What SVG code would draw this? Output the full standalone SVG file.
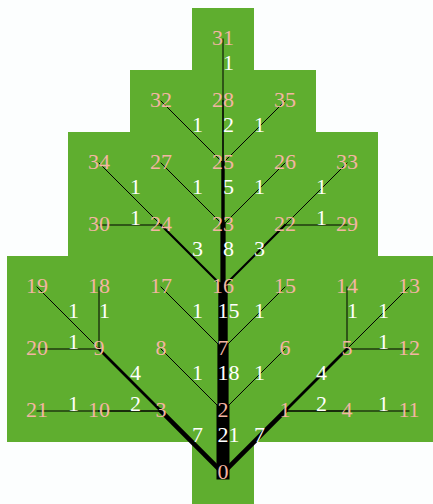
<svg xmlns="http://www.w3.org/2000/svg" width="433" height="504" viewBox="0 0 433 504">
<style>
.bg{fill:#fcfefe}
.leaf{fill:#5fae2f}
.e{stroke:#000;stroke-linecap:square;fill:none}
.w1{stroke-width:1}
.w2{stroke-width:1.6}
.w3{stroke-width:2.2}
.w4{stroke-width:2.8}
.w5{stroke-width:3.4}
.w7{stroke-width:4.6}
.w8{stroke-width:5.2}
.w15{stroke-width:9.4}
.w18{stroke-width:11.2}
.w21{stroke-width:13}
.el{font-family:"Liberation Serif","Times New Roman",serif;font-size:22px;fill:#ffffff;text-anchor:middle}
.nl{font-family:"Liberation Serif","Times New Roman",serif;font-size:22px;fill:#f4b5a3;text-anchor:middle}
</style>
<rect class="bg" x="0" y="0" width="433" height="504"/>
<path class="leaf" d="M192,8 H254 V70 H316 V132 H378 V256 H440 V442 H254 V504 H192 V442 H7 V256 H68 V132 H130 V70 H192 Z"/>
<g id="connectors">
<line class="e w7" x1="223" y1="473" x2="285" y2="411"/>
<line class="e w7" x1="223" y1="473" x2="161" y2="411"/>
<line class="e w2" x1="285" y1="411" x2="347" y2="411"/>
<line class="e w4" x1="285" y1="411" x2="347" y2="349"/>
<line class="e w1" x1="347" y1="411" x2="409" y2="411"/>
<line class="e w1" x1="347" y1="349" x2="409" y2="349"/>
<line class="e w1" x1="347" y1="349" x2="409" y2="287"/>
<line class="e w1" x1="347" y1="349" x2="347" y2="287"/>
<line class="e w1" x1="223" y1="411" x2="285" y2="349"/>
<line class="e w1" x1="223" y1="411" x2="161" y2="349"/>
<line class="e w1" x1="223" y1="349" x2="285" y2="287"/>
<line class="e w1" x1="223" y1="349" x2="161" y2="287"/>
<line class="e w4" x1="161" y1="411" x2="99" y2="349"/>
<line class="e w2" x1="161" y1="411" x2="99" y2="411"/>
<line class="e w1" x1="99" y1="349" x2="99" y2="287"/>
<line class="e w1" x1="99" y1="349" x2="37" y2="287"/>
<line class="e w1" x1="99" y1="349" x2="37" y2="349"/>
<line class="e w1" x1="99" y1="411" x2="37" y2="411"/>
<line class="e w3" x1="223" y1="287" x2="285" y2="225"/>
<line class="e w3" x1="223" y1="287" x2="161" y2="225"/>
<line class="e w1" x1="285" y1="225" x2="347" y2="225"/>
<line class="e w1" x1="285" y1="225" x2="347" y2="163"/>
<line class="e w1" x1="223" y1="225" x2="285" y2="163"/>
<line class="e w1" x1="223" y1="225" x2="161" y2="163"/>
<line class="e w1" x1="161" y1="225" x2="99" y2="225"/>
<line class="e w1" x1="161" y1="225" x2="99" y2="163"/>
<line class="e w1" x1="223" y1="163" x2="161" y2="101"/>
<line class="e w1" x1="223" y1="163" x2="285" y2="101"/>
<line class="e w1" x1="223" y1="101" x2="223" y2="39"/>
<line class="e w2" x1="223" y1="163" x2="223" y2="101"/>
<line class="e w5" x1="223" y1="225" x2="223" y2="163"/>
<line class="e w8" x1="223" y1="287" x2="223" y2="225"/>
<line class="e w15" x1="223" y1="349" x2="223" y2="287"/>
<line class="e w18" x1="223" y1="411" x2="223" y2="349"/>
<line class="e w21" x1="223" y1="473" x2="223" y2="411"/>
<text class="el" x="259.5" y="442">7</text>
<text class="el" x="228.5" y="442">21</text>
<text class="el" x="197.5" y="442">7</text>
<text class="el" x="321.5" y="411">2</text>
<text class="el" x="321.5" y="380">4</text>
<text class="el" x="383.5" y="411">1</text>
<text class="el" x="383.5" y="349">1</text>
<text class="el" x="383.5" y="318">1</text>
<text class="el" x="352.5" y="318">1</text>
<text class="el" x="259.5" y="380">1</text>
<text class="el" x="228.5" y="380">18</text>
<text class="el" x="197.5" y="380">1</text>
<text class="el" x="259.5" y="318">1</text>
<text class="el" x="228.5" y="318">15</text>
<text class="el" x="197.5" y="318">1</text>
<text class="el" x="135.5" y="380">4</text>
<text class="el" x="135.5" y="411">2</text>
<text class="el" x="104.5" y="318">1</text>
<text class="el" x="73.5" y="318">1</text>
<text class="el" x="73.5" y="349">1</text>
<text class="el" x="73.5" y="411">1</text>
<text class="el" x="259.5" y="256">3</text>
<text class="el" x="228.5" y="256">8</text>
<text class="el" x="197.5" y="256">3</text>
<text class="el" x="321.5" y="225">1</text>
<text class="el" x="321.5" y="194">1</text>
<text class="el" x="228.5" y="194">5</text>
<text class="el" x="259.5" y="194">1</text>
<text class="el" x="197.5" y="194">1</text>
<text class="el" x="135.5" y="225">1</text>
<text class="el" x="135.5" y="194">1</text>
<text class="el" x="228.5" y="132">2</text>
<text class="el" x="197.5" y="132">1</text>
<text class="el" x="259.5" y="132">1</text>
<text class="el" x="228.5" y="70">1</text>
</g>
<g id="n0"><text class="nl" x="223" y="479">0</text></g>
<g id="n1"><text class="nl" x="285" y="417">1</text></g>
<g id="n2"><text class="nl" x="223" y="417">2</text></g>
<g id="n3"><text class="nl" x="161" y="417">3</text></g>
<g id="n4"><text class="nl" x="347" y="417">4</text></g>
<g id="n5"><text class="nl" x="347" y="355">5</text></g>
<g id="n6"><text class="nl" x="285" y="355">6</text></g>
<g id="n7"><text class="nl" x="223" y="355">7</text></g>
<g id="n8"><text class="nl" x="161" y="355">8</text></g>
<g id="n9"><text class="nl" x="99" y="355">9</text></g>
<g id="n10"><text class="nl" x="99" y="417">10</text></g>
<g id="n11"><text class="nl" x="409" y="417">11</text></g>
<g id="n12"><text class="nl" x="409" y="355">12</text></g>
<g id="n13"><text class="nl" x="409" y="293">13</text></g>
<g id="n14"><text class="nl" x="347" y="293">14</text></g>
<g id="n15"><text class="nl" x="285" y="293">15</text></g>
<g id="n16"><text class="nl" x="223" y="293">16</text></g>
<g id="n17"><text class="nl" x="161" y="293">17</text></g>
<g id="n18"><text class="nl" x="99" y="293">18</text></g>
<g id="n19"><text class="nl" x="37" y="293">19</text></g>
<g id="n20"><text class="nl" x="37" y="355">20</text></g>
<g id="n21"><text class="nl" x="37" y="417">21</text></g>
<g id="n22"><text class="nl" x="285" y="231">22</text></g>
<g id="n23"><text class="nl" x="223" y="231">23</text></g>
<g id="n24"><text class="nl" x="161" y="231">24</text></g>
<g id="n25"><text class="nl" x="223" y="169">25</text></g>
<g id="n26"><text class="nl" x="285" y="169">26</text></g>
<g id="n27"><text class="nl" x="161" y="169">27</text></g>
<g id="n28"><text class="nl" x="223" y="107">28</text></g>
<g id="n29"><text class="nl" x="347" y="231">29</text></g>
<g id="n30"><text class="nl" x="99" y="231">30</text></g>
<g id="n31"><text class="nl" x="223" y="45">31</text></g>
<g id="n32"><text class="nl" x="161" y="107">32</text></g>
<g id="n33"><text class="nl" x="347" y="169">33</text></g>
<g id="n34"><text class="nl" x="99" y="169">34</text></g>
<g id="n35"><text class="nl" x="285" y="107">35</text></g>
</svg>
